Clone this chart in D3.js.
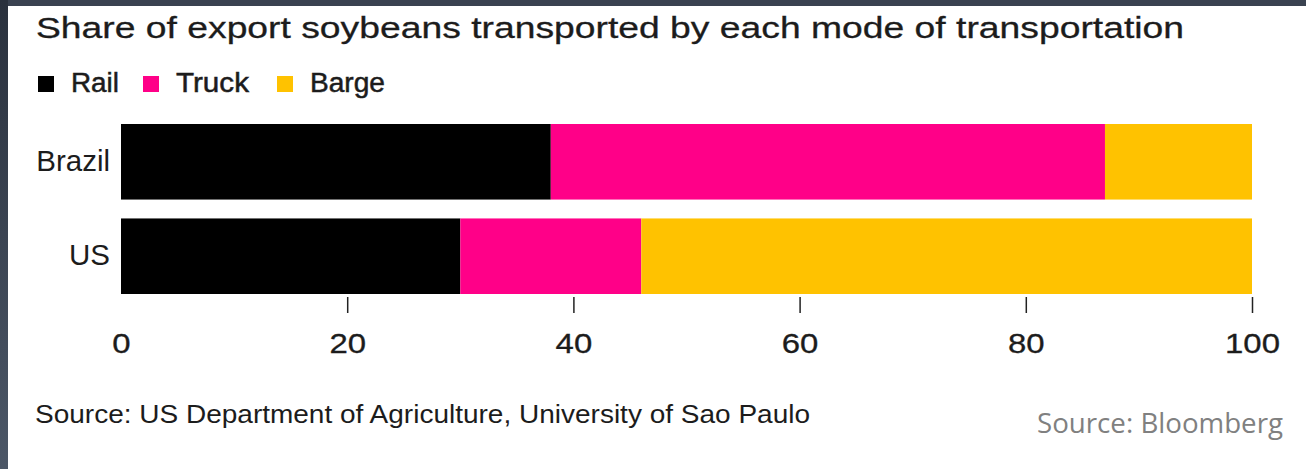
<!DOCTYPE html>
<html>
<head>
<meta charset="utf-8">
<script src="https://cdn.jsdelivr.net/npm/d3@7"></script>
<style>
  body { margin: 0; background: #fff; }
  svg { display: block; }
</style>
</head>
<body>
<script>
// page size
var w = 1306;
var h = 469;

// data
var countries = ["Brazil", "US"];
var modes = ["Rail", "Truck", "Barge"];
var rail = [38, 30];
var truck = [49, 16];
var barge = [13, 54];
var xTicks = [0, 20, 40, 60, 80, 100];
var colors = ["#000000", "#ff0088", "#ffc200"];

var svg = d3.select("body")
  .append("svg")
  .attr("width", w)
  .attr("height", h);

// frame of the screenshot (dark strips on top and left)
var defs = svg.append("defs");
var grad = defs.append("linearGradient")
  .attr("id", "edge")
  .attr("x1", 0).attr("y1", 0).attr("x2", 0).attr("y2", 1);
grad.append("stop").attr("offset", "0%").attr("stop-color", "#2a313d");
grad.append("stop").attr("offset", "100%").attr("stop-color", "#4c5767");

svg.append("rect").attr("x", 0).attr("y", 0).attr("width", w).attr("height", 6).attr("fill", "#3a4250");
svg.append("rect").attr("x", 0).attr("y", 0).attr("width", 8).attr("height", h).attr("fill", "url(#edge)");

var font = "'Liberation Sans', Arial, sans-serif";
var ink = "#1c1c1c";

// title (the picture is a bit stretched sideways, so fit the width)
svg.append("text")
  .attr("x", 36)
  .attr("y", 38)
  .attr("font-family", font)
  .attr("font-size", 30)
  .attr("fill", ink)
  .attr("stroke", ink)
  .attr("stroke-width", 0.3)
  .attr("textLength", 1148)
  .attr("lengthAdjust", "spacingAndGlyphs")
  .text("Share of export soybeans transported by each mode of transportation");

// legend
var legendX = [38, 143, 277];
var legendW = [48, 73, 75];
var legend = svg.selectAll(".legend")
  .data(modes)
  .enter()
  .append("g")
  .attr("class", "legend")
  .attr("transform", function(d, i) { return "translate(" + legendX[i] + ",76)"; });

legend.append("rect")
  .attr("width", 16)
  .attr("height", 16)
  .attr("fill", function(d, i) { return colors[i]; });

legend.append("text")
  .attr("x", 33)
  .attr("y", 16)
  .attr("font-family", font)
  .attr("font-size", 27)
  .attr("fill", ink)
  .attr("stroke", ink)
  .attr("stroke-width", 0.5)
  .attr("textLength", function(d, i) { return legendW[i]; })
  .attr("lengthAdjust", "spacingAndGlyphs")
  .text(function(d) { return d; });

// scales
var x = d3.scaleLinear().domain([0, 100]).range([121, 1252]);
var y = d3.scaleBand().domain(countries).range([124, 294]).paddingInner(0.2).paddingOuter(0);

// stack
var rows = countries.map(function(c, i) {
  return { country: c, Rail: rail[i], Truck: truck[i], Barge: barge[i] };
});
var series = d3.stack().keys(modes)(rows);

svg.selectAll(".series")
  .data(series)
  .enter()
  .append("g")
  .attr("class", "series")
  .attr("fill", function(d, i) { return colors[i]; })
  .selectAll("rect")
  .data(function(d) { return d; })
  .enter()
  .append("rect")
  .attr("x", function(d) { return x(d[0]); })
  .attr("width", function(d) { return x(d[1]) - x(d[0]); })
  .attr("y", function(d) { return y(d.data.country); })
  .attr("height", y.bandwidth());

// category labels
svg.selectAll(".cat")
  .data(countries)
  .enter()
  .append("text")
  .attr("class", "cat")
  .attr("x", 110)
  .attr("y", function(d) { return y(d) + y.bandwidth() / 2 + 9; })
  .attr("text-anchor", "end")
  .attr("font-family", font)
  .attr("font-size", 29.5)
  .attr("fill", ink)
  .text(function(d) { return d; });

// x axis
var axis = svg.append("g")
  .attr("transform", "translate(0,297)")
  .call(d3.axisBottom(x).tickValues(xTicks).tickSize(16).tickFormat(d3.format("d")));
axis.select(".domain").remove();
axis.selectAll(".tick line")
  .attr("stroke", "#222")
  .attr("stroke-width", 1.5)
  .attr("display", function(d) { return d === 0 ? "none" : null; });
axis.selectAll(".tick text")
  .attr("y", 0)
  .attr("dy", null)
  .attr("transform", "translate(0,56) scale(1.22,1)")
  .attr("font-family", font)
  .attr("font-size", 27)
  .attr("fill", ink)
  .attr("stroke", ink)
  .attr("stroke-width", 0.3);

// sources
svg.append("text")
  .attr("x", 35)
  .attr("y", 423)
  .attr("font-family", font)
  .attr("font-size", 25)
  .attr("fill", ink)
  .attr("textLength", 775)
  .attr("lengthAdjust", "spacingAndGlyphs")
  .text("Source: US Department of Agriculture, University of Sao Paulo");

svg.append("text")
  .attr("x", 1037)
  .attr("y", 433)
  .attr("font-family", "'Open Sans', 'Noto Sans', sans-serif")
  .attr("font-size", 27.5)
  .attr("fill", "#808080")
  .attr("textLength", 246)
  .attr("lengthAdjust", "spacingAndGlyphs")
  .text("Source: Bloomberg");
</script>
</body>
</html>
